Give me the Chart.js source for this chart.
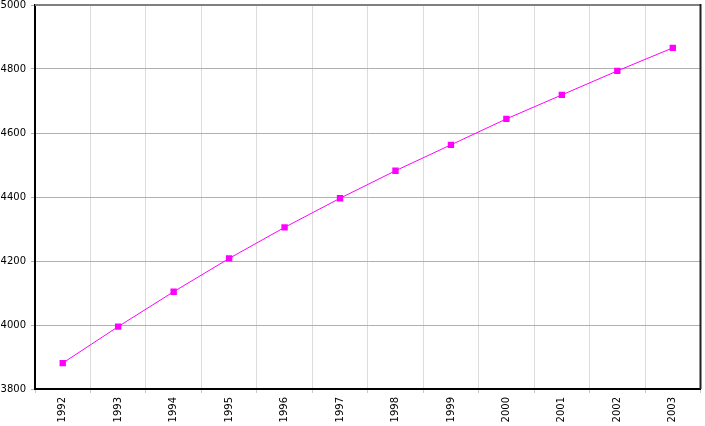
<!DOCTYPE html>
<html>
<head>
<meta charset="utf-8">
<script src="https://cdn.jsdelivr.net/npm/chart.js@4/dist/chart.umd.min.js"></script>
<style>
  html, body { margin: 0; padding: 0; background: #fff; }
  #wrap { width: 705px; height: 426px; }
</style>
</head>
<body>
<div id="wrap"><canvas id="myLineChart"></canvas></div>
<script>
const years = ["1992", "1993", "1994", "1995", "1996", "1997", "1998", "1999", "2000", "2001", "2002", "2003"];
const population = [3881, 3995, 4104, 4208, 4305, 4396, 4482, 4563, 4644, 4719, 4794, 4866];
const yTicks = [3800, 4000, 4200, 4400, 4600, 4800, 5000];

// frame on the top (gray) and right (dark) of the plot
const frame = {
  id: 'frame',
  afterDraw(chart) {
    const a = chart.chartArea;
    const c = chart.ctx;
    c.save();
    c.lineWidth = 2;
    c.strokeStyle = '#808080';
    c.beginPath();
    c.moveTo(a.left, a.top);
    c.lineTo(a.right, a.top);
    c.stroke();
    c.strokeStyle = '#222';
    c.beginPath();
    c.moveTo(a.right, a.top - 1);
    c.lineTo(a.right, a.bottom);
    c.stroke();
    c.restore();
  }
};

const ctx = document.getElementById('myLineChart').getContext('2d');
const myLineChart = new Chart(ctx, {
  type: 'line',
  data: {
    labels: years,
    datasets: [{
      label: '',
      data: population,
      borderColor: '#ff00ff',
      backgroundColor: '#ff00ff',
      borderWidth: 1,
      pointStyle: 'rect',
      pointRadius: 4.5,
      pointBorderWidth: 0,
      pointBackgroundColor: '#ff00ff',
      tension: 0
    }]
  },
  options: {
    responsive: true,
    maintainAspectRatio: false,
    animation: false,
    layout: { padding: { top: 5, right: 2, left: 0, bottom: 0 } },
    plugins: {
      legend: { display: false },
      tooltip: { enabled: false }
    },
    scales: {
      x: {
        offset: true,
        grid: {
          offset: true,
          color: '#dcdcdc',
          tickColor: '#c8c8c8',
          tickLength: 4
        },
        border: { color: '#000', width: 2 },
        ticks: {
          minRotation: 90,
          maxRotation: 90,
          padding: 4,
          color: '#000',
          font: { family: 'DejaVu Sans', size: 10, lineHeight: 1 }
        },
        afterFit(scale) {
          scale.height = 37;
          scale.paddingLeft = 0;
          scale.paddingRight = 0;
        }
      },
      y: {
        min: 3800,
        max: 5000,
        afterBuildTicks(scale) { scale.ticks = yTicks.map(v => ({ value: v })); },
        grid: {
          color: '#b0b0b0',
          tickLength: 4
        },
        border: { color: '#000', width: 2 },
        ticks: {
          padding: 5,
          color: '#000',
          font: { family: 'DejaVu Sans', size: 10, lineHeight: 1 },
          callback: function(value) {
            return String(value);
          }
        },
        afterFit(scale) {
          scale.width = 35;
          scale.paddingTop = 0;
          scale.paddingBottom = 0;
        }
      }
    }
  },
  plugins: [frame]
});
</script>
</body>
</html>
